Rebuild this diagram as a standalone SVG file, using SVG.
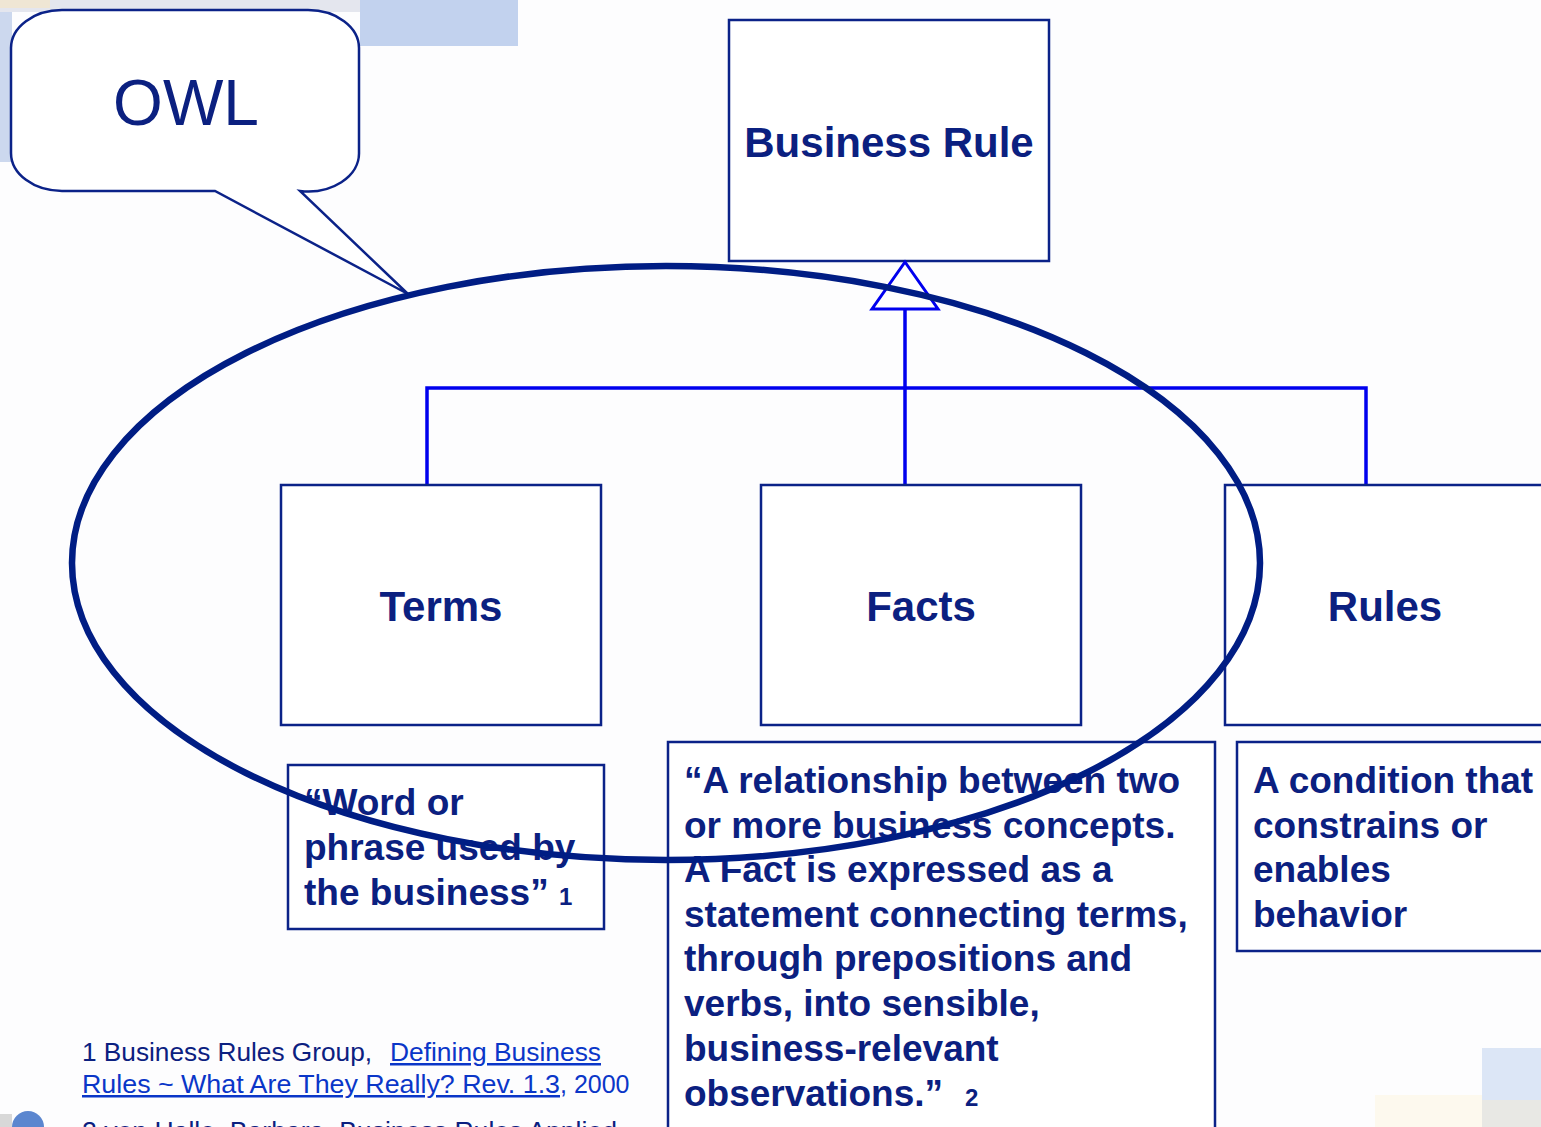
<svg xmlns="http://www.w3.org/2000/svg" width="1541" height="1127" viewBox="0 0 1541 1127">
<style>
.box{fill:#fff;stroke:#0b2288;stroke-width:2.5}
.title{font-family:"Liberation Sans",Arial,sans-serif;font-weight:bold;font-size:42px;fill:#0b2080;text-anchor:middle}
.desc{font-family:"Liberation Sans",Arial,sans-serif;font-weight:bold;font-size:37px;fill:#0b2080}
.sup{font-size:24px}
.conn{fill:none;stroke:#0000ee;stroke-width:3.5}
.foot{font-family:"Liberation Sans",Arial,sans-serif;font-size:25px;fill:#0b2080}
.link{fill:#0a36c8;text-decoration:underline}
</style>
<rect x="0" y="0" width="1541" height="1127" fill="#fdfdfe"/>
<g id="background">
<rect x="360" y="0" width="158" height="46" fill="#c2d2ee"/>
<rect x="0" y="0" width="360" height="12" fill="#e4e6ee"/>
<rect x="0" y="0" width="50" height="8" fill="#efe6d4"/>
<rect x="0" y="12" width="12" height="150" fill="#ccd8ee"/>
<rect x="1482" y="1048" width="59" height="52" fill="#dce6f6"/>
<rect x="1482" y="1100" width="59" height="27" fill="#e8e8e4"/>
<rect x="1375" y="1095" width="107" height="32" fill="#fdf9ee"/>
<circle cx="28" cy="1127" r="16" fill="#5b86cf"/>
<rect x="0" y="1114" width="12" height="13" fill="#d8d8d8"/>
</g>
<g id="owl-callout">
<path class="box" d="M62,10 H308 A51,38 0 0 1 359,48 V153 A51,38 0 0 1 300,191 L408,294 L215,191 H62 A51,38 0 0 1 11,153 V48 A51,38 0 0 1 62,10 Z"/>
<text x="186" y="125" font-family="Liberation Sans,Arial,sans-serif" font-size="64" fill="#0b2080" text-anchor="middle">OWL</text>
</g>
<g id="business-rule">
<rect class="box" x="729" y="20" width="320" height="241"/>
<text class="title" x="889" y="157">Business Rule</text>
</g>
<g id="connectors">
<path class="conn" d="M905,309 V485 M427,485 V388 H1366 V485"/>
<polygon points="905,262 938,309 872,309" fill="#fff" stroke="#0000ee" stroke-width="3"/>
</g>
<g id="terms">
<rect class="box" x="281" y="485" width="320" height="240"/>
<text class="title" x="441" y="621">Terms</text>
</g>
<g id="facts">
<rect class="box" x="761" y="485" width="320" height="240"/>
<text class="title" x="921" y="621">Facts</text>
</g>
<g id="rules">
<rect class="box" x="1225" y="485" width="330" height="240"/>
<text class="title" x="1385" y="621">Rules</text>
</g>
<g id="terms-desc">
<rect class="box" x="288" y="765" width="316" height="164"/>
<text class="desc" x="304" y="815">“Word or</text>
<text class="desc" x="304" y="860">phrase used by</text>
<text class="desc" x="304" y="905">the business” <tspan class="sup">1</tspan></text>
</g>
<g id="facts-desc">
<rect class="box" x="668" y="742" width="547" height="400"/>
<text class="desc" x="684" y="793">“A relationship between two</text>
<text class="desc" x="684" y="838">or more business concepts.</text>
<text class="desc" x="684" y="882">A Fact is expressed as a</text>
<text class="desc" x="684" y="927">statement connecting terms,</text>
<text class="desc" x="684" y="971">through prepositions and</text>
<text class="desc" x="684" y="1016">verbs, into sensible,</text>
<text class="desc" x="684" y="1061">business-relevant</text>
<text class="desc" x="684" y="1106">observations.”<tspan class="sup" x="965">2</tspan></text>
</g>
<g id="rules-desc">
<rect class="box" x="1237" y="742" width="320" height="209"/>
<text class="desc" x="1253" y="793">A condition that</text>
<text class="desc" x="1253" y="838">constrains or</text>
<text class="desc" x="1253" y="882">enables</text>
<text class="desc" x="1253" y="927">behavior</text>
</g>
<g id="footnotes">
<text class="foot" x="82" y="1061" textLength="290" lengthAdjust="spacingAndGlyphs">1 Business Rules Group,</text>
<text class="foot link" x="390" y="1061" textLength="211" lengthAdjust="spacingAndGlyphs">Defining Business</text>
<text class="foot" x="82" y="1093"><tspan class="link" textLength="478" lengthAdjust="spacingAndGlyphs">Rules ~ What Are They Really? Rev. 1.3</tspan><tspan fill="#0a36c8">, 2000</tspan></text>
<text class="foot" x="82" y="1140" fill="#0a36c8" textLength="535" lengthAdjust="spacingAndGlyphs">2 von Halle, Barbara, Business Rules Applied</text>
</g>
<g id="owl-scope">
<ellipse cx="666" cy="563" rx="594" ry="297" fill="none" stroke="#001d84" stroke-width="6.5"/>
</g>
</svg>
